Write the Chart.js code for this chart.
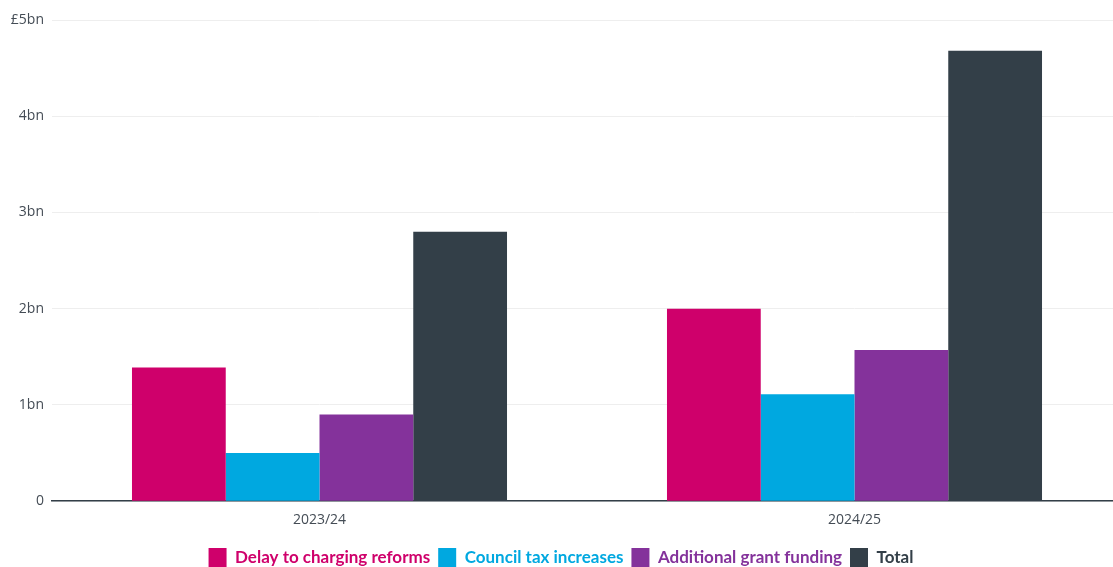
<!DOCTYPE html>
<html>
<head>
<meta charset="utf-8">
<script src="https://cdn.jsdelivr.net/npm/chart.js@4"></script>
<style>
  html, body { margin: 0; padding: 0; background: #fff; overflow: hidden; }
  #wrap { width: 1122px; height: 567px; }
</style>
</head>
<body>
<div id="wrap"><canvas id="chart"></canvas></div>
<script>
const years = ['2023/24', '2024/25'];
const delayReforms = [1.39, 2.0];
const councilTax = [0.5, 1.11];
const grantFunding = [0.9, 1.57];
const totals = [2.8, 4.68];
const yTicks = [0, 1, 2, 3, 4, 5];

const colours = ['#cf006b', '#00a8e0', '#84329b', '#333f48'];

const ctx = document.getElementById('chart').getContext('2d');
new Chart(ctx, {
    type: 'bar',
    data: {
        labels: years,
        datasets: [
            { label: 'Delay to charging reforms', data: delayReforms, backgroundColor: colours[0] },
            { label: 'Council tax increases', data: councilTax, backgroundColor: colours[1] },
            { label: 'Additional grant funding', data: grantFunding, backgroundColor: colours[2] },
            { label: 'Total', data: totals, backgroundColor: colours[3] }
        ]
    },
    options: {
        responsive: true,
        maintainAspectRatio: false,
        animation: false,
        layout: { padding: { top: 20, right: 0, left: 0, bottom: -10 } },
        datasets: { bar: { categoryPercentage: 0.701, barPercentage: 1 } },
        plugins: {
            tooltip: { enabled: false },
            legend: {
                position: 'bottom',
                labels: {
                    boxWidth: 18,
                    boxHeight: 19,
                    padding: 8,
                    font: { family: 'Lato', size: 17, weight: 'bold' },
                    generateLabels: (chart) => chart.data.datasets.map((ds, i) => ({
                        text: ds.label,
                        fillStyle: ds.backgroundColor,
                        strokeStyle: ds.backgroundColor,
                        lineWidth: 0,
                        fontColor: ds.backgroundColor,
                        datasetIndex: i
                    }))
                }
            }
        },
        scales: {
            x: {
                grid: { display: false, drawTicks: false },
                border: { color: '#333f48', width: 1.5 },
                afterFit: (scale) => { scale.height += 2; },
                ticks: { color: '#444c55', padding: 10, font: { family: 'Open Sans', size: 14 } }
            },
            y: {
                min: 0,
                max: 5,
                afterFit: (scale) => { scale.width = 52; },
                afterBuildTicks: (scale) => { scale.ticks = yTicks.map(v => ({ value: v })); },
                grid: { color: '#eeeeee', drawTicks: false },
                border: { display: false },
                ticks: {
                    color: '#444c55',
                    padding: 8,
                    font: { family: 'Open Sans', size: 14 },
                    callback: (v) => v === 0 ? '0' : (v === 5 ? '£5bn' : v + 'bn')
                }
            }
        }
    }
});
</script>
</body>
</html>
